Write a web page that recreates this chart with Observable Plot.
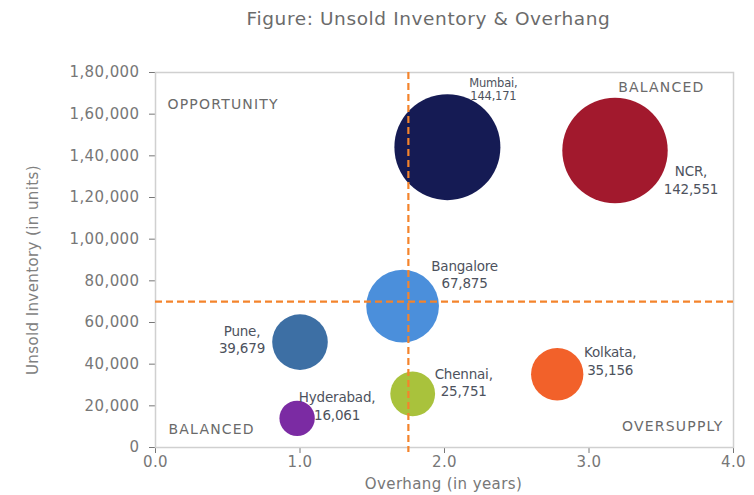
<!DOCTYPE html>
<html>
<head>
<meta charset="utf-8">
<script src="https://cdn.jsdelivr.net/npm/d3@7"></script>
<script src="https://cdn.jsdelivr.net/npm/@observablehq/plot@0.6"></script>
<style>
  html, body { margin: 0; padding: 0; background: #ffffff; }
</style>
</head>
<body>
<div id="chart"></div>
<script>
// ---- data ----
const cities = ["Mumbai", "NCR", "Bangalore", "Pune", "Chennai", "Kolkata", "Hyderabad"];
const labelNames = ["Mumbai,", "NCR,", "Bangalore", "Pune,", "Chennai,", "Kolkata,", "Hyderabad,"];
const overhangYears = [2.02, 3.18, 1.71, 1.0, 1.78, 2.78, 0.98];
const unsoldUnits = [144171, 142551, 67875, 39679, 25751, 35156, 16061];      // printed values (bubble size)
const plottedUnits = [144171, 142551, 67875, 50600, 25751, 35156, 14000];     // where the bubble centres sit
const cityColors = ["#151b54", "#a2192d", "#4b8fdb", "#3d6fa4", "#a9c23c", "#f2612a", "#7b2ba3"];
const overhangThreshold = [1.75];
const inventoryThreshold = [70000];
const xTicks = [0, 1, 2, 3, 4];
const yTicks = [0, 20000, 40000, 60000, 80000, 100000, 120000, 140000, 160000, 180000];
const quadrantLabels = ["OPPORTUNITY", "BALANCED", "BALANCED", "OVERSUPPLY"];
const titleText = "Figure: Unsold Inventory & Overhang";
const xTitle = "Overhang (in years)";
const yTitle = "Unsold Inventory (in units)";

// ---- presentation ----
const labelPlacement = {
  Mumbai:    {dx: 46, dy: -58, size: 11.5, lh: 1.2},
  NCR:       {dx: 76, dy: 29},
  Bangalore: {dx: 62, dy: -32},
  Pune:      {dx: -58, dy: -3},
  Chennai:   {dx: 51, dy: -12},
  Kolkata:   {dx: 53, dy: -14},
  Hyderabad: {dx: 40, dy: -13}
};

function indian(n) {
  const s = String(Math.round(n));
  if (s.length <= 3) return s;
  const last3 = s.slice(-3);
  const rest = s.slice(0, -3).replace(/\B(?=(\d{2})+(?!\d))/g, ",");
  return rest + "," + last3;
}

const rows = cities.map((c, i) => ({
  city: c,
  x: overhangYears[i],
  y: plottedUnits[i],
  units: unsoldUnits[i],
  color: cityColors[i],
  label: labelNames[i] + "\n" + d3.format(",")(unsoldUnits[i])
}));

const labelMarks = rows.map(r => {
  const p = labelPlacement[r.city];
  return Plot.text([r], {
    x: "x", y: "y", text: "label",
    dx: p.dx, dy: p.dy,
    textAnchor: "middle", lineAnchor: "middle",
    lineHeight: p.lh || 1.3,
    fontSize: p.size || 13.5,
    fill: "#4d525d",
    ariaDescription: "bubble-label"
  });
});

const quadrantMarks = [
  Plot.text([quadrantLabels[0]], {frameAnchor: "top-left", textAnchor: "start", lineAnchor: "middle", dx: 12, dy: 32, ariaDescription: "quadrant"}),
  Plot.text([quadrantLabels[1]], {frameAnchor: "top-right", textAnchor: "end", lineAnchor: "middle", dx: -29, dy: 15, ariaDescription: "quadrant"}),
  Plot.text([quadrantLabels[2]], {frameAnchor: "bottom-left", textAnchor: "start", lineAnchor: "middle", dx: 13, dy: -18, ariaDescription: "quadrant"}),
  Plot.text([quadrantLabels[3]], {frameAnchor: "bottom-right", textAnchor: "end", lineAnchor: "middle", dx: -10, dy: -21, ariaDescription: "quadrant"})
];

const chart = Plot.plot({
  width: 754,
  height: 495,
  marginLeft: 155,
  marginRight: 21,
  marginTop: 72,
  marginBottom: 48,
  style: "font-family: 'DejaVu Sans', sans-serif; font-size: 15px; color: #777777; background: #ffffff; letter-spacing: 0.4px;",
  x: {domain: [0, 4], ticks: xTicks, tickFormat: d => d.toFixed(1), tickSize: 6, tickPadding: 3, label: null},
  y: {domain: [0, 180000], ticks: yTicks, tickFormat: indian, tickSize: 6, tickPadding: 10, label: null},
  r: {type: "sqrt", domain: [0, 144171], range: [0, 53]},
  marks: [
    Plot.frame({stroke: "#d0d0d0", strokeWidth: 1.5}),
    Plot.dot(rows, {x: "x", y: "y", r: "units", fill: "color", stroke: "none"}),
    Plot.ruleX(overhangThreshold, {stroke: "#f4842c", strokeWidth: 2.2, strokeDasharray: "7,4", insetBottom: -5}),
    Plot.ruleY(inventoryThreshold, {stroke: "#f4842c", strokeWidth: 2.2, strokeDasharray: "7,4"}),
    ...labelMarks,
    ...quadrantMarks,
    Plot.text([titleText], {frameAnchor: "top", textAnchor: "middle", lineAnchor: "middle", dx: -16, dy: -53, fontSize: 18.5, fill: "#6b6b6b", ariaDescription: "title"}),
    Plot.text([xTitle], {frameAnchor: "bottom", textAnchor: "middle", lineAnchor: "middle", dx: -1, dy: 37, fontSize: 15, fill: "#777777"}),
    Plot.text([yTitle], {frameAnchor: "left", textAnchor: "middle", lineAnchor: "middle", rotate: -90, dx: -122, dy: 10, fontSize: 15, fill: "#808080"})
  ]
});

document.getElementById("chart").appendChild(chart);

// letter spacing tweaks (style only)
const svg = d3.select(chart);
svg.selectAll("g[aria-description='bubble-label'] text").style("letter-spacing", "-0.2px");
svg.selectAll("g[aria-description='title'] text").style("letter-spacing", "0.6px");
svg.selectAll("g[aria-description='quadrant'] text")
  .style("letter-spacing", "1.2px").style("font-size", "14px").style("fill", "#6a6a6a");
</script>
</body>
</html>
